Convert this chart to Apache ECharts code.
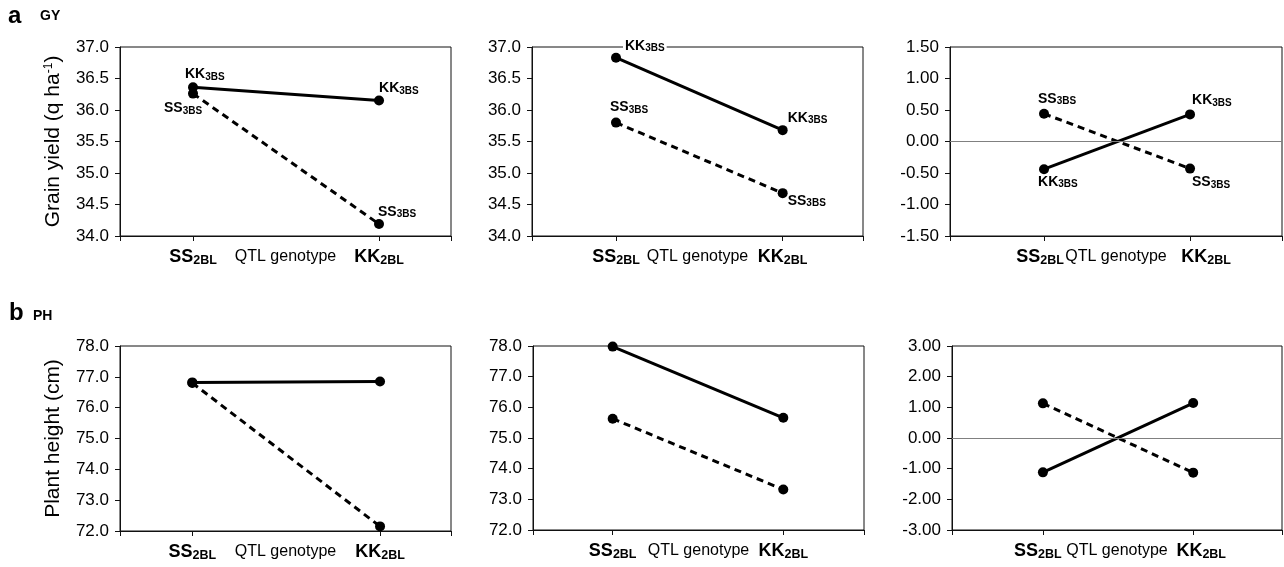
<!DOCTYPE html>
<html><head><meta charset="utf-8">
<script src="https://cdn.jsdelivr.net/npm/echarts@6/dist/echarts.min.js"></script>
<style>html,body{margin:0;padding:0;background:#fff}#c{width:1284px;height:567px}</style>
</head><body><div id="c"></div>
<script>
// ---- data ----
const categories = ['SS', 'KK'];          // QTL genotype at 2BL
const catSub = '2BL';
const lineNames = ['KK', 'SS'];           // genotype at 3BS
const lineSub = '3BS';
const xAxisTitle = 'QTL genotype';
// GY (grain yield)
const gySolidA = [36.36, 36.15];
const gyDashedA = [36.26, 34.19];
const gySolidB = [36.83, 35.68];
const gyDashedB = [35.80, 34.68];
const gySolidC = [-0.44, 0.43];
const gyDashedC = [0.44, -0.43];
// PH (plant height)
const phSolidA = [76.82, 76.85];
const phDashedA = [76.80, 72.15];
const phSolidB = [77.98, 75.66];
const phDashedB = [75.63, 73.32];
const phSolidC = [-1.12, 1.14];
const phDashedC = [1.13, -1.13];

const FONT = "'Liberation Sans', Arial, sans-serif";
const chart = echarts.init(document.getElementById('c'), null, {renderer: 'canvas'});

const panels = [
  {grid: {left: 120, top: 47, width: 331, height: 189}, x: [0.6075, 2.387], y: [34, 37, 0.5], dec: 1,
   solid: gySolidA, dashed: gyDashedA, name: ['Grain yield (q ha', '-1', ')'], shift: [0, 0],
   lab: {s: [[-8, -13], [0, -12]], d: [[-29, 15], [-1, -12]]}},
  {grid: {left: 532, top: 47, width: 331, height: 189}, x: [0.496, 2.482], y: [34, 37, 0.5], dec: 1,
   solid: gySolidB, dashed: gyDashedB, bg: true, shift: [0, 0],
   lab: {s: [[7, -12], [5, -12]], d: [[-6, -15], [5, 8]]}},
  {grid: {left: 950, top: 47, width: 332, height: 189}, x: [0.356, 2.63], y: [-1.5, 1.5, 0.5], dec: 2,
   solid: gySolidC, dashed: gyDashedC, zero: true, shift: [8, 32],
   lab: {s: [[-6, 13], [2, -14]], d: [[-6, -15], [2, 14]]}},
  {grid: {left: 120, top: 346, width: 331, height: 185}, x: [0.615, 2.378], y: [72, 78, 1], dec: 1,
   solid: phSolidA, dashed: phDashedA, name: ['Plant height (cm)'], shift: [0, 0]},
  {grid: {left: 533, top: 346, width: 331, height: 184}, x: [0.533, 2.473], y: [72, 78, 1], dec: 1,
   solid: phSolidB, dashed: phDashedB, shift: [0, 0]},
  {grid: {left: 952, top: 346, width: 330, height: 184}, x: [0.395, 2.591], y: [-3, 3, 1], dec: 2,
   solid: phSolidC, dashed: phDashedC, zero: true, shift: [10, 16]}
];

const grids = [], xAxes = [], yAxes = [], series = [];
const ptRich = {
  m: {fontSize: 14, fontWeight: 'bold', fontFamily: FONT, color: '#000', lineHeight: 15},
  s: {fontSize: 10, fontWeight: 'bold', fontFamily: FONT, color: '#000', lineHeight: 11, padding: [6, 0, 0, 0], verticalAlign: 'bottom'}
};
panels.forEach((p, i) => {
  grids.push(Object.assign({show: true, borderColor: '#111', borderWidth: 1, backgroundColor: 'transparent'}, p.grid));
  const xr = {
    m: {fontSize: 18, fontWeight: 'bold', fontFamily: FONT, color: '#000', lineHeight: 19},
    s: {fontSize: 12.5, fontWeight: 'bold', fontFamily: FONT, color: '#000', lineHeight: 13, padding: [9, 0, 0, 0], verticalAlign: 'bottom'},
    g0: {width: p.shift[0], lineHeight: 1},
    g1: {width: p.shift[1], lineHeight: 1}
  };
  xAxes.push({
    type: 'value', gridIndex: i, min: p.x[0], max: p.x[1],
    axisLine: {show: true, onZero: false, lineStyle: {color: '#111', width: 1}},
    axisTick: {show: true, length: 5, lineStyle: {color: '#111'}, customValues: [p.x[0], 1, 2, p.x[1]]},
    splitLine: {show: false},
    axisLabel: {
      customValues: [1, 2], margin: 12,
      formatter: v => {
        const k = Math.round(v) - 1;
        const core = '{m|' + categories[k] + '}{s|' + catSub + '}';
        if (k === 0) return p.shift[0] ? core + '{g0| }' : core;
        return p.shift[1] ? '{g1| }' + core : core;
      },
      rich: xr
    },
    name: xAxisTitle, nameLocation: 'middle', nameGap: 13, nameMoveOverlap: false,
    nameTextStyle: {fontSize: 16, fontFamily: FONT, color: '#000', verticalAlign: 'top'}
  });
  const ya = {
    type: 'value', gridIndex: i, min: p.y[0], max: p.y[1], interval: p.y[2],
    axisLine: {show: true, lineStyle: {color: '#111', width: 1}},
    axisTick: {show: true, inside: false, length: 5, lineStyle: {color: '#111'}},
    splitLine: {show: false},
    axisLabel: {fontSize: 17, fontFamily: FONT, color: '#000', margin: 11, formatter: v => v.toFixed(p.dec)}
  };
  if (p.name) {
    ya.name = p.name.length > 1 ? '{t|' + p.name[0] + '}{u|' + p.name[1] + '}{t|' + p.name[2] + '}' : '{t|' + p.name[0] + '}';
    ya.nameLocation = 'middle';
    ya.nameGap = 56;
    ya.nameMoveOverlap = false;
    ya.nameTextStyle = {rich: {
      t: {fontSize: 21, fontFamily: FONT, color: '#000'},
      u: {fontSize: 12, fontFamily: FONT, color: '#000', padding: [0, 0, 9, 0]}
    }};
  }
  yAxes.push(ya);

  const mk = (vals, dashed, labOff) => {
    const nm = dashed ? lineNames[1] : lineNames[0];
    return {
      type: 'line', xAxisIndex: i, yAxisIndex: i,
      name: nm + lineSub,
      data: vals.map((v, k) => {
        const item = {value: [k + 1, v]};
        if (labOff) {
          item.label = {show: true, position: 'inside', align: 'left', verticalAlign: 'middle',
            offset: labOff[k], formatter: '{m|' + nm + '}{s|' + lineSub + '}', rich: ptRich,
            backgroundColor: (p.bg && !dashed && k === 0) ? '#fff' : 'transparent',
            padding: (p.bg && !dashed && k === 0) ? [0, 2, 0, 2] : 0};
        }
        return item;
      }),
      symbol: 'circle', symbolSize: 10,
      itemStyle: {color: '#000'},
      lineStyle: {color: '#000', width: 3, type: dashed ? [7, 5] : 'solid'},
      label: {show: false},
      z: dashed ? 3 : 4,
      animation: false,
      markLine: (p.zero && !dashed) ? {
        silent: true, symbol: 'none', label: {show: false},
        lineStyle: {color: '#808080', width: 1, type: 'solid'},
        data: [{yAxis: 0}], animation: false
      } : undefined
    };
  };
  series.push(mk(p.solid, false, p.lab ? p.lab.s : null));
  series.push(mk(p.dashed, true, p.lab ? p.lab.d : null));
});

chart.setOption({
  animation: false,
  backgroundColor: '#fff',
  title: [
    {text: 'a', left: 8, top: 4, padding: 0, textStyle: {fontSize: 24, fontWeight: 'bold', fontFamily: FONT, color: '#000'}},
    {text: 'GY', left: 40, top: 9, padding: 0, textStyle: {fontSize: 14, fontWeight: 'bold', fontFamily: FONT, color: '#000'}},
    {text: 'b', left: 9, top: 301, padding: 0, textStyle: {fontSize: 24, fontWeight: 'bold', fontFamily: FONT, color: '#000'}},
    {text: 'PH', left: 33, top: 309, padding: 0, textStyle: {fontSize: 14, fontWeight: 'bold', fontFamily: FONT, color: '#000'}}
  ],
  grid: grids, xAxis: xAxes, yAxis: yAxes, series: series
});
</script></body></html>
